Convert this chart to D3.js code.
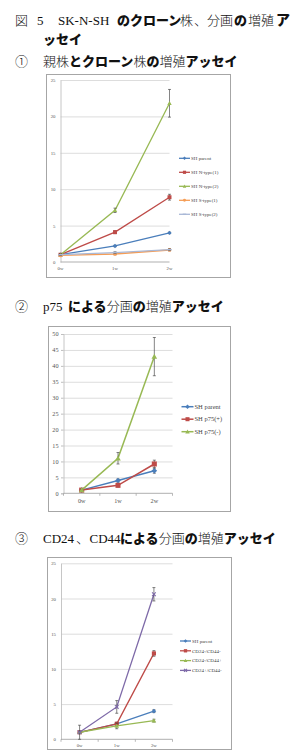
<!DOCTYPE html>
<html><head><meta charset="utf-8">
<script src="https://cdn.jsdelivr.net/npm/d3@7"></script>
<style>
html,body{margin:0;padding:0;background:#fff;}
svg{display:block;}
</style></head>
<body>
<svg id="c" width="302" height="755"></svg>
<script>
// ---------- DATA ----------
const weeks = ["0w", "1w", "2w"];

// Chart 1: parent and clone lines
const chart1Names = ["SH parent", "SH N-type(1)", "SH N-type(2)", "SH S-type(1)", "SH S-type(2)"];
const chart1Values = [
  [1.0, 2.2, 4.0],
  [1.0, 4.1, 8.9],
  [1.0, 7.1, 21.8],
  [0.9, 1.1, 1.65],
  [1.0, 1.3, 1.7]
];
const chart1Errors = [
  [0.1, 0.1, 0.1],
  [0.1, 0.2, 0.4],
  [0.1, 0.3, 1.9],
  [0.1, 0.1, 0.1],
  [0.1, 0.1, 0.1]
];
const chart1Ticks = [0, 5, 10, 15, 20, 25];

// Chart 2: p75 fractions
const chart2Names = ["SH parent", "SH p75(+)", "SH p75(-)"];
const chart2Values = [
  [1.0, 4.0, 7.1],
  [1.0, 2.5, 9.2],
  [1.0, 11.0, 42.9]
];
const chart2Errors = [
  [0.2, 0.5, 0.8],
  [0.2, 0.5, 1.2],
  [0.2, 1.8, 6.0]
];
const chart2Ticks = [0, 5, 10, 15, 20, 25, 30, 35, 40, 45, 50];

// Chart 3: CD24 / CD44 fractions
const chart3Names = ["SH parent", "CD24-/CD44-", "CD24-/CD44+", "CD24+/CD44-"];
const chart3Values = [
  [1.0, 2.2, 4.0],
  [1.0, 2.2, 12.2],
  [1.0, 1.9, 2.65],
  [1.0, 4.6, 20.6]
];
const chart3Errors = [
  [0.1, 0.2, 0.2],
  [0.1, 0.2, 0.4],
  [0.1, 0.4, 0.2],
  [1.0, 0.9, 0.95]
];
const chart3Ticks = [0, 5, 10, 15, 20, 25];

// ---------- STYLE ----------
const excelColors = ["#4A7EBB", "#BE4B48", "#98B954", "#F59D56", "#A9B8D6"];
const chart3Colors = ["#4A7EBB", "#BE4B48", "#98B954", "#7E6AA8"];
const markers1 = ["diamond", "square", "triangle", "circle", "dash"];
const markers2 = ["diamond", "square", "triangle"];
const markers3 = ["diamond", "square", "triangle", "cross"];

const svg = d3.select("#c");
svg.append("rect").attr("width", 302).attr("height", 755).attr("fill", "#fff");

// ---------- HEADINGS ----------
const mincho = "'Noto Sans CJK JP', sans-serif";
const latinSerif = "'Liberation Serif', 'DejaVu Serif', serif";

function heading(x, y, parts, size) {
  const t = svg.append("text").attr("x", x).attr("y", y).attr("font-size", size).attr("fill", "#111");
  parts.forEach(p => {
    const ts = t.append("tspan").text(p[0]);
    if (p[1] === "b") ts.attr("font-family", mincho).attr("font-weight", 900);
    else if (p[1] === "l") ts.attr("font-family", latinSerif).attr("font-weight", 400);
    else ts.attr("font-family", mincho).attr("font-weight", 300);
    if (p[2] !== undefined) ts.attr("x", p[2]);
    if (p[3] !== undefined) ts.attr("font-size", p[3]);
  });
}

heading(15, 25, [["図", "n"], ["5", "l", 37], ["SK-N-SH", "l", 58], ["のクローン", "b", 117], ["株", "n", 180],
  ["、", "n", 194], ["分画", "n", 207], ["の", "b", 234], ["増殖", "n", 248], ["ア", "b", 276, 14]], 13);
heading(43, 44, [["ッセイ", "b"]], 13);
heading(15, 66, [["①", "n"], ["親株", "n", 43], ["とクローン", "b"], ["株", "n"], ["の", "b"], ["増殖", "n"], ["アッセイ", "b"]], 13);
heading(15, 311, [["②", "n"], ["p75", "l", 43], ["による", "b", 68], ["分画", "n"], ["の", "b"], ["増殖", "n"], ["アッセイ", "b"]], 13);
heading(15, 543, [["③", "n"], ["CD24", "l", 43], ["、", "n", 76], ["CD44", "l", 89.5], ["による", "b", 120], ["分画", "n"], ["の", "b"], ["増殖", "n"], ["アッセイ", "b"]], 13);

// ---------- MARKERS ----------
function drawMarker(g, type, x, y, s, color) {
  if (type === "diamond") {
    g.append("path").attr("d", `M${x},${y - s}L${x + s},${y}L${x},${y + s}L${x - s},${y}Z`).attr("fill", color);
  } else if (type === "square") {
    g.append("rect").attr("x", x - s * 0.9).attr("y", y - s * 0.9).attr("width", s * 1.8).attr("height", s * 1.8).attr("fill", color);
  } else if (type === "triangle") {
    g.append("path").attr("d", `M${x},${y - s}L${x + s},${y + s * 0.8}L${x - s},${y + s * 0.8}Z`).attr("fill", color);
  } else if (type === "circle") {
    g.append("circle").attr("cx", x).attr("cy", y).attr("r", s * 0.85).attr("fill", color);
  } else if (type === "cross") {
    g.append("path").attr("d", `M${x - s * 0.8},${y - s * 0.8}L${x + s * 0.8},${y + s * 0.8}M${x - s * 0.8},${y + s * 0.8}L${x + s * 0.8},${y - s * 0.8}`)
      .attr("stroke", color).attr("stroke-width", 1.1);
  } else if (type === "dash") {
    g.append("path").attr("d", `M${x - s},${y}L${x + s},${y}`).attr("stroke", color).attr("stroke-width", 1.4);
  }
}

// ---------- CHART ----------
function drawChart(cfg) {
  const g = svg.append("g");
  // frame
  g.append("rect").attr("x", cfg.frame[0] + 0.5).attr("y", cfg.frame[1] + 0.5)
    .attr("width", cfg.frame[2] - cfg.frame[0]).attr("height", cfg.frame[3] - cfg.frame[1])
    .attr("fill", "#fff").attr("stroke", "#a6a6a6").attr("stroke-width", 1);

  const y = d3.scaleLinear().domain([cfg.ticks[0], cfg.ticks[cfg.ticks.length - 1]]).range(cfg.yRange);
  let xPos;
  if (cfg.onTicks) {
    const x = d3.scalePoint().domain(weeks).range(cfg.xRange).padding(0);
    xPos = d => x(d);
  } else {
    const x = d3.scaleBand().domain(weeks).range(cfg.xRange).paddingInner(0).paddingOuter(0);
    xPos = d => x(d) + x.bandwidth() / 2;
  }

  // gridlines
  const gridAxis = d3.axisLeft(y).tickValues(cfg.ticks.slice(1)).tickSize(-(cfg.xRange[1] - cfg.xRange[0])).tickFormat("");
  const gg = g.append("g").attr("transform", `translate(${cfg.xRange[0]},0)`).call(gridAxis);
  gg.select(".domain").remove();
  gg.selectAll("line").attr("stroke", "#d9d9d9").attr("stroke-width", 0.9);

  // y axis
  const ya = g.append("g").attr("transform", `translate(${cfg.xRange[0]},0)`)
    .call(d3.axisLeft(y).tickValues(cfg.ticks).tickSize(cfg.yTick).tickPadding(cfg.labelPad));
  ya.select(".domain").attr("stroke", "#bfbfbf").attr("stroke-width", 0.9);
  ya.selectAll(".tick line").attr("stroke", "#bfbfbf");
  ya.selectAll("text").attr("font-family", latinSerif).attr("font-size", cfg.fs).attr("fill", "#555");

  // x axis
  const xa = g.append("g").attr("transform", `translate(0,${cfg.yRange[0]})`);
  xa.append("line").attr("x1", cfg.xRange[0]).attr("x2", cfg.xRange[1]).attr("stroke", "#a6a6a6").attr("stroke-width", 0.9);
  if (!cfg.onTicks) {
    const bw = (cfg.xRange[1] - cfg.xRange[0]) / weeks.length;
    d3.range(weeks.length + 1).forEach(i => {
      xa.append("line").attr("x1", cfg.xRange[0] + i * bw).attr("x2", cfg.xRange[0] + i * bw)
        .attr("y1", 0).attr("y2", 2.5).attr("stroke", "#a6a6a6").attr("stroke-width", 0.8);
    });
  }
  weeks.forEach(w => {
    xa.append("text").attr("x", xPos(w)).attr("y", cfg.xLabelDy).attr("text-anchor", "middle")
      .attr("font-family", latinSerif).attr("font-size", cfg.fs).attr("fill", "#555").text(w);
  });

  // series
  const line = d3.line().x((d, i) => xPos(weeks[i])).y(d => y(d));
  cfg.values.forEach((vals, si) => {
    const col = cfg.colors[si];
    const sg = g.append("g");
    sg.append("path").attr("d", line(vals)).attr("fill", "none").attr("stroke", col).attr("stroke-width", cfg.lw);
    vals.forEach((v, i) => {
      const e = cfg.errors[si][i];
      const cx = xPos(weeks[i]);
      sg.append("path").attr("d", `M${cx},${y(v + e)}V${y(v - e)}M${cx - 1.5},${y(v + e)}H${cx + 1.5}M${cx - 1.5},${y(v - e)}H${cx + 1.5}`)
        .attr("stroke", "#333").attr("stroke-width", 0.6).attr("fill", "none");
      drawMarker(sg, cfg.markers[si], cx, y(v), cfg.ms, col);
    });
  });

  // legend
  cfg.names.forEach((n, si) => {
    const ly = cfg.legendY + si * cfg.legendDy;
    const col = cfg.colors[si];
    g.append("line").attr("x1", cfg.legendX).attr("x2", cfg.legendX + cfg.legendLen).attr("y1", ly).attr("y2", ly)
      .attr("stroke", col).attr("stroke-width", cfg.lw);
    drawMarker(g, cfg.markers[si], cfg.legendX + cfg.legendLen / 2, ly, cfg.ms * 0.8, col);
    g.append("text").attr("x", cfg.legendX + cfg.legendLen + 1).attr("y", ly).attr("dy", "0.35em")
      .attr("font-family", latinSerif).attr("font-size", cfg.lfs).attr("fill", "#444").text(n);
  });
}

drawChart({
  frame: [46, 74, 230, 277], xRange: [60.5, 169.5], yRange: [262, 80], onTicks: true,
  ticks: chart1Ticks, values: chart1Values, errors: chart1Errors, names: chart1Names,
  colors: excelColors, markers: markers1, fs: 4.8, lfs: 5, yTick: 0, labelPad: 5, xLabelDy: 8,
  lw: 1.3, ms: 2.2, legendX: 179, legendLen: 11, legendY: 158.3, legendDy: 14
});

drawChart({
  frame: [48, 326, 230, 511], xRange: [63.5, 172.5], yRange: [493.3, 334], onTicks: false,
  ticks: chart2Ticks, values: chart2Values, errors: chart2Errors, names: chart2Names,
  colors: excelColors.slice(0, 3), markers: markers2, fs: 6.2, lfs: 6.5, yTick: 2.5, labelPad: 2.5, xLabelDy: 10,
  lw: 1.5, ms: 2.8, legendX: 181.5, legendLen: 12, legendY: 406.7, legendDy: 12.5
});

drawChart({
  frame: [47, 557, 231, 749], xRange: [61, 172.5], yRange: [739.3, 563.3], onTicks: false,
  ticks: chart3Ticks, values: chart3Values, errors: chart3Errors, names: chart3Names,
  colors: chart3Colors, markers: markers3, fs: 4.8, lfs: 5, yTick: 0, labelPad: 5, xLabelDy: 8,
  lw: 1.3, ms: 2.3, legendX: 180, legendLen: 11, legendY: 641, legendDy: 9.8
});
</script>
</body></html>
